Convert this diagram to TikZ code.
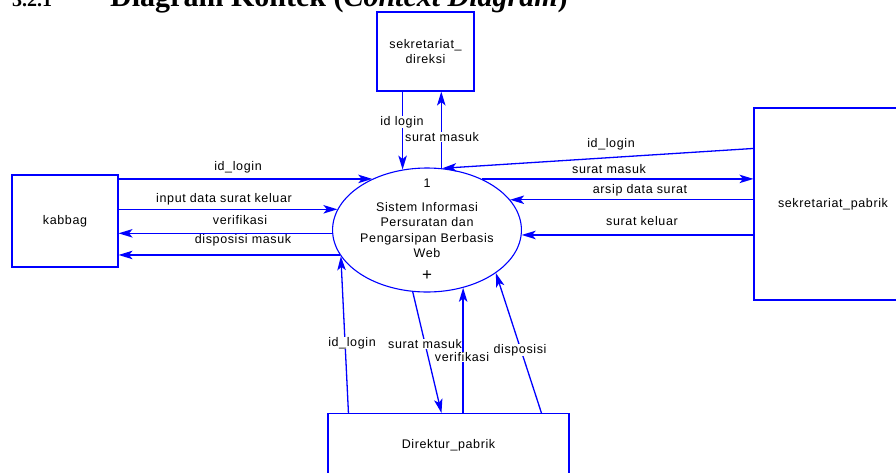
\documentclass[tikz,border=0pt]{standalone}
\usepackage{fontspec}
\setmainfont{Liberation Sans}[LetterSpace=5]
\newfontfamily\headfont{Liberation Serif}
\usetikzlibrary{arrows.meta,shapes.geometric}
\newcommand\dfdfont{\fontsize{12.5}{15.5}\selectfont}

\begin{document}
\begin{tikzpicture}[x=1pt,y=-1pt,
  entity/.style={draw=blue,line width=1.1pt,inner sep=0pt,align=center,font=\dfdfont},
  process/.style={ellipse,draw=blue,line width=1.1pt,inner sep=0pt,minimum width=162pt,
    minimum height=124pt,align=center,font=\dfdfont},
  flow/.style={draw=blue,line width=1.3pt,-{Stealth[length=14pt,width=8.5pt,inset=3.5pt]}},
  lbl/.style={fill=white,inner sep=0pt,font=\dfdfont}]
  \useasboundingbox (0,0) rectangle (896,472);
  \fill[white] (0,0) rectangle (896,472);

  % heading, cut off at the top
  \node[anchor=base west,inner sep=0pt,font=\headfont\bfseries\fontsize{20}{20}\selectfont] (secnum) at (12,6) {3.2.1};
  \node[anchor=base west,inner sep=0pt,font=\headfont\bfseries\fontsize{30}{30}\selectfont] (heading) at (110,6)
    {Diagram Kontek (\textit{Context Diagram})};

  % process
  \node[process] (ell) at (427,230) {Sistem Informasi\\Persuratan dan\\Pengarsipan Berbasis\\Web};
  \node[font=\dfdfont] (pnum) at ([yshift=47pt]ell.center) {1};
  \node[font=\fontsize{17}{17}\selectfont] (plus) at ([yshift=-46pt]ell.center) {+};

  % external entities
  \node[entity,minimum width=97pt,minimum height=79pt] (direksi) at (425.5,51.5) {sekretariat\_\\direksi};
  \node[entity,minimum width=106pt,minimum height=92pt] (kabbag) at (65,221) {kabbag};
  \node[entity,minimum width=158pt,minimum height=192pt] (pabrik) at (833,204) {sekretariat\_pabrik};
  \node[entity,minimum width=241pt,minimum height=63pt,anchor=north] (direktur) at (448.5,413) {Direktur\_pabrik};

  % flows
  \draw[flow] (direksi.south -| ell.112) -- (ell.112);
  \draw[flow] (ell.77) -- (direksi.south -| ell.77);

  \draw[flow] (kabbag.east |- ell.137) -- (ell.137);
  \draw[flow] (kabbag.east |- ell.167) -- (ell.167);
  \draw[flow] (ell.182) -- (kabbag.east |- ell.182);
  \draw[flow] (ell.196) -- (kabbag.east |- ell.196);

  \draw[flow] ([yshift=-41pt]pabrik.north west) -- (ell.76);
  \draw[flow] (ell.43) -- (pabrik.west |- ell.43);
  \draw[flow] (pabrik.west |- ell.20) -- (ell.20);
  \draw[flow] (pabrik.west |- ell.357) -- (ell.357);

  \draw[flow] ([xshift=21pt]direktur.north west) -- (ell.197);
  \draw[flow] (ell.257) -- ([xshift=114pt]direktur.north west);
  \draw[flow] (direktur.north -| ell.302) -- (ell.302);
  \draw[flow] ([xshift=214pt]direktur.north west) -- (ell.328);

  % flow labels
  \node[lbl] (l-dir-login) at (402,122) {id login};
  \node[lbl] (l-dir-masuk) at (442,137) {surat masuk};

  \node[lbl] (l-kab-login) at (238,167) {id\_login};
  \node[lbl] (l-kab-input) at (224,199) {input data surat keluar};
  \node[lbl] (l-kab-verif) at (240,220) {verifikasi};
  \node[lbl] (l-kab-dispo) at (243,240) {disposisi masuk};

  \node[lbl] (l-pab-login) at (611,144) {id\_login};
  \node[lbl] (l-pab-masuk) at (609,169) {surat masuk};
  \node[lbl] (l-pab-arsip) at (640,190) {arsip data surat};
  \node[lbl] (l-pab-keluar) at (642,221) {surat keluar};

  \node[lbl] (l-drk-login) at (352,343) {id\_login};
  \node[lbl] (l-drk-masuk) at (425,344) {surat masuk};
  \node[lbl] (l-drk-verif) at (462,357) {verifikasi};
  \node[lbl] (l-drk-dispo) at (520,350) {disposisi};
\end{tikzpicture}
\end{document}
